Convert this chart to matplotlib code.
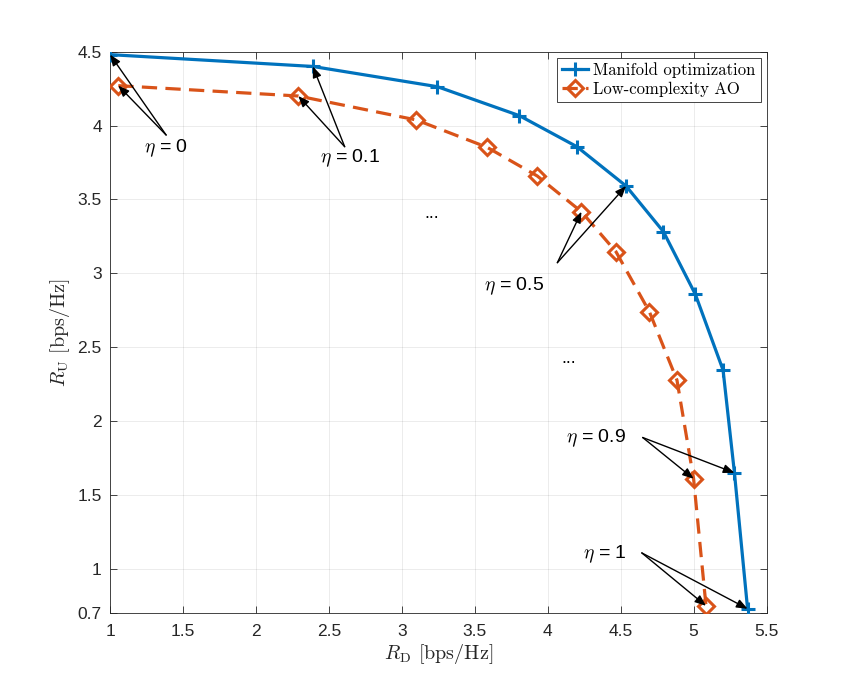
import matplotlib
matplotlib.use("Agg")
import matplotlib.pyplot as plt

# Data
rd_mo = [1.00, 2.39, 3.244, 3.806, 4.20, 4.537, 4.793, 5.012, 5.202, 5.28, 5.37]
ru_mo = [4.48, 4.40, 4.263, 4.067, 3.857, 3.591, 3.282, 2.858, 2.345, 1.65, 0.73]
rd_ao = [1.056, 2.29, 3.099, 3.584, 3.928, 4.231, 4.468, 4.697, 4.886, 5.00, 5.085]
ru_ao = [4.27, 4.20, 4.038, 3.853, 3.659, 3.417, 3.146, 2.74, 2.277, 1.61, 0.75]
eta_labels = ["0", "0.1", "0.5", "0.9", "1"]
eta_index = [0, 1, 5, 9, 10]
xticks = [1, 1.5, 2, 2.5, 3, 3.5, 4, 4.5, 5, 5.5]
yticks = [0.7, 1, 1.5, 2, 2.5, 3, 3.5, 4, 4.5]

plt.rcParams['mathtext.fontset'] = 'cm'
plt.rcParams['lines.scale_dashes'] = False
plt.rcParams['axes.unicode_minus'] = False

fig = plt.figure(figsize=(8.47, 6.89), dpi=100)
ax = fig.add_axes([0.13, 0.11, 0.775, 0.815])

axc = '#262626'
blue = '#0072BD'
orange = '#D95319'

ax.plot(rd_mo, ru_mo, color=blue, lw=2.3, marker='+', ms=10, mew=2.2,
        label='Manifold optimization', zorder=4)
ax.plot(rd_ao, ru_ao, color=orange, lw=2.3, ls=(0, (11, 6)), marker='D', ms=8,
        mew=2.2, mfc='none', label='Low-complexity AO', zorder=3)

ax.set_xlim(1, 5.5)
ax.set_ylim(0.7, 4.5)
ax.set_xticks(xticks)
ax.set_yticks(yticks)
ax.set_xticklabels(['%g' % t for t in xticks], family='Liberation Sans', fontsize=12.5, color=axc)
ax.set_yticklabels(['%g' % t for t in yticks], family='Liberation Sans', fontsize=12.5, color=axc)
ax.tick_params(direction='in', length=5, width=0.6, color=axc, top=True, right=True, pad=8)
ax.tick_params(axis='y', pad=6)
for s in ax.spines.values():
    s.set_color(axc)
    s.set_linewidth(0.6)
ax.grid(True, color='#262626', alpha=0.1, lw=0.6)
ax.set_axisbelow(True)

ax.set_xlabel(r'$R_{\mathrm{D}}$ [bps/Hz]', family='cmr10', fontsize=14.5, color=axc, labelpad=2)
ax.set_ylabel(r'$R_{\mathrm{U}}$ [bps/Hz]', family='cmr10', fontsize=14.5, color=axc, labelpad=4)

leg = ax.legend(loc='upper right', prop={'family': 'cmr10', 'size': 12}, fancybox=False,
                edgecolor=axc, framealpha=1, borderpad=0.3, labelspacing=0.2,
                handlelength=1.6, handletextpad=0.3, borderaxespad=0.35)
leg.get_frame().set_linewidth(0.6)

# Annotations (text positions and arrow tails in data coordinates)
tails = [(1.384, 3.936), (2.608, 3.857), (4.066, 3.072), (4.651, 1.889), (4.645, 1.108)]
text_pos = [(1.383, 3.848), (2.646, 3.781), (3.769, 2.914), (4.33, 1.885), (4.39, 1.10)]
arrow_kw = dict(arrowstyle='-|>,head_length=0.55,head_width=0.22', color='black', lw=1.0,
                mutation_scale=12, shrinkA=0, shrinkB=0)
for lab, idx, tail, tp in zip(eta_labels, eta_index, tails, text_pos):
    for xs, ys in ((rd_mo, ru_mo), (rd_ao, ru_ao)):
        ax.annotate('', xy=(xs[idx], ys[idx]), xytext=tail, arrowprops=arrow_kw, zorder=5)
    ax.text(tp[0], tp[1], r'$\eta$ = ' + lab, ha='center', va='center',
            family='Liberation Sans', fontsize=14, color='black')

ax.text(3.207, 3.408, '...', ha='center', va='center', family='Liberation Sans', fontsize=13)
ax.text(4.143, 2.426, '...', ha='center', va='center', family='Liberation Sans', fontsize=13)

fig.savefig('out.png', dpi=100, facecolor='white')
